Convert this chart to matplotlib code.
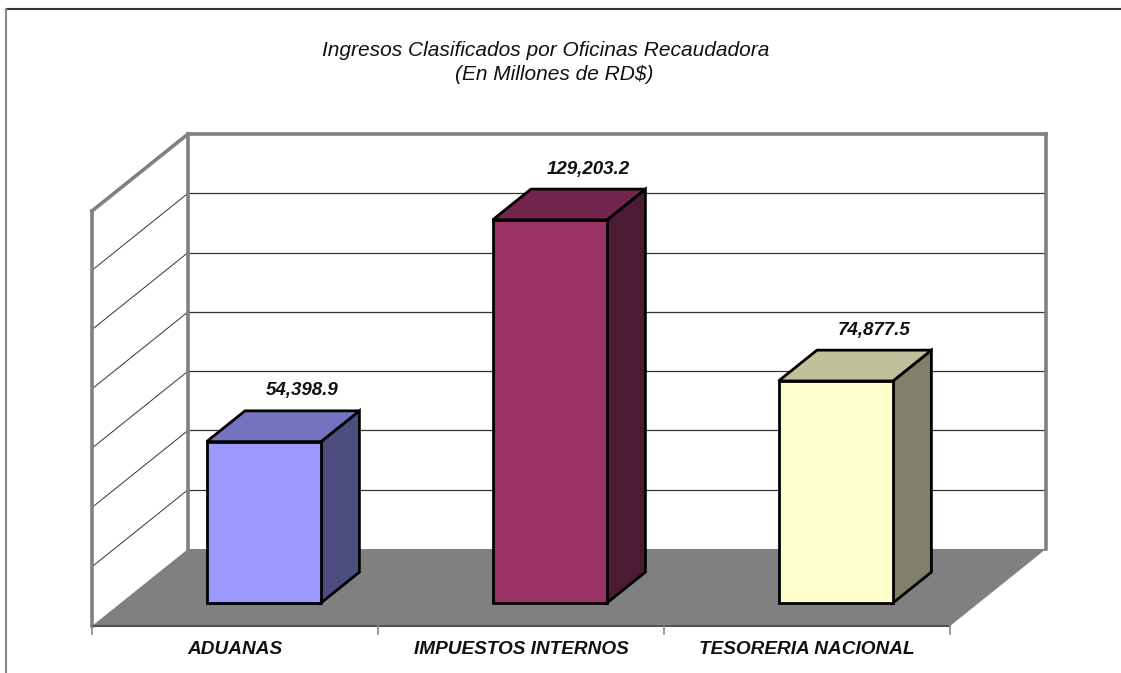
import matplotlib
matplotlib.use("Agg")
import matplotlib.pyplot as plt
from matplotlib.patches import Polygon
from matplotlib.lines import Line2D

# ---------------- data ----------------
categories = ["ADUANAS", "IMPUESTOS INTERNOS", "TESORERIA NACIONAL"]
values = [54398.9, 129203.2, 74877.5]
value_labels = ["54,398.9", "129,203.2", "74,877.5"]
y_ticks = [0, 20000, 40000, 60000, 80000, 100000, 120000, 140000]
title_lines = ["Ingresos Clasificados por Oficinas Recaudadora", "(En Millones de RD$)"]

front_colors = ["#9999FF", "#993366", "#FFFFCC"]
top_colors = ["#7373C0", "#73264D", "#C0C09A"]
side_colors = ["#4D4D80", "#4D1A33", "#80806A"]

# ---------------- layout (pixels) ----------------
W, H = 1121, 673
plt.rcParams['font.family'] = ['Liberation Sans', 'DejaVu Sans']
fig = plt.figure(figsize=(W / 100, H / 100), dpi=100)
ax = fig.add_axes([0, 0, 1, 1])
ax.axis('off')

n = len(categories)
ymax = y_ticks[-1]
px_per_cat = 286.0
px_per_val = 415.0 / ymax
origin_x, origin_y = 92.0, 47.0          # floor front-left corner (pixels from left / bottom)
depth_px = (96.0, 77.0)                  # depth vector in pixels

ax.set_xlim(-origin_x / px_per_cat, (W - origin_x) / px_per_cat)
ax.set_ylim(-origin_y / px_per_val, (H - origin_y) / px_per_val)

DX = depth_px[0] / px_per_cat
DY = depth_px[1] / px_per_val


def P(u, v, d):
    return (u + d * DX, v + d * DY)


wall_gray = "#808080"

# back wall and left wall backgrounds
ax.add_patch(Polygon([P(0, 0, 1), P(n, 0, 1), P(n, ymax, 1), P(0, ymax, 1)],
                     closed=True, facecolor="white", edgecolor="none", zorder=1))
ax.add_patch(Polygon([P(0, 0, 0), P(0, 0, 1), P(0, ymax, 1), P(0, ymax, 0)],
                     closed=True, facecolor="white", edgecolor="none", zorder=1))

# gridlines
for t in y_ticks[1:-1]:
    a, b = P(0, t, 1), P(n, t, 1)
    ax.plot([a[0], b[0]], [a[1], b[1]], color="#333333", lw=0.9, zorder=2)
    a, b = P(0, t, 0), P(0, t, 1)
    ax.plot([a[0], b[0]], [a[1], b[1]], color="#333333", lw=0.7, zorder=2)

# wall frame lines
frame_segments = [
    (P(0, 0, 0), P(0, ymax, 0)),
    (P(0, ymax, 0), P(0, ymax, 1)),
    (P(0, 0, 1), P(0, ymax, 1)),
    (P(0, ymax, 1), P(n, ymax, 1)),
    (P(n, 0, 1), P(n, ymax, 1)),
]
for a, b in frame_segments:
    ax.plot([a[0], b[0]], [a[1], b[1]], color=wall_gray, lw=2.6,
            solid_capstyle='projecting', zorder=3)

# floor
ax.add_patch(Polygon([P(0, 0, 0), P(0, 0, 1), P(n, 0, 1), P(n, 0, 0)],
                     closed=True, facecolor=wall_gray, edgecolor="none", zorder=4))
a, b = P(0, 0, 0), P(n, 0, 0)
ax.plot([a[0], b[0]], [a[1], b[1]], color="#555555", lw=1.5, zorder=5)
tick_len = 8 / px_per_val
for i in range(n + 1):
    ax.plot([i, i], [0, -tick_len], color="#888888", lw=1.2, zorder=5)

# bars
d0, d1 = 0.3, 0.7
for i, val in enumerate(values):
    u0, u1 = i + 0.3, i + 0.7
    front = [P(u0, 0, d0), P(u1, 0, d0), P(u1, val, d0), P(u0, val, d0)]
    top = [P(u0, val, d0), P(u1, val, d0), P(u1, val, d1), P(u0, val, d1)]
    side = [P(u1, 0, d0), P(u1, 0, d1), P(u1, val, d1), P(u1, val, d0)]
    for poly, col in ((side, side_colors[i]), (top, top_colors[i]), (front, front_colors[i])):
        ax.add_patch(Polygon(poly, closed=True, facecolor=col, edgecolor="black",
                             lw=2.0, joinstyle='miter', zorder=6))
    lx, ly = P(i + 0.5, val, d1)
    ax.annotate(value_labels[i], (lx, ly), xytext=(0, 20), textcoords='offset pixels',
                ha='center', va='center', fontsize=13.5, fontweight='bold',
                fontstyle='italic', color="#111111", zorder=7)

# category labels
for i, cat in enumerate(categories):
    ax.annotate(cat, (i + 0.5, 0), xytext=(0, -23), textcoords='offset pixels',
                ha='center', va='center', fontsize=13.7, fontweight='bold',
                fontstyle='italic', color="#111111")

# title
fig.text(546 / W, 1 - 50 / H, title_lines[0], ha='center', va='center',
         fontsize=15, fontstyle='italic', color="#111111")
fig.text(554 / W, 1 - 75 / H, title_lines[1], ha='center', va='center',
         fontsize=15, fontstyle='italic', color="#111111")

# outer frame
fig.add_artist(Line2D([6 / W, 1], [1 - 9 / H, 1 - 9 / H], transform=fig.transFigure,
                      color="#333333", lw=1.5))
fig.add_artist(Line2D([6 / W, 6 / W], [0, 1 - 9 / H], transform=fig.transFigure,
                      color="#888888", lw=1.5))

fig.savefig("out.png", dpi=100)
